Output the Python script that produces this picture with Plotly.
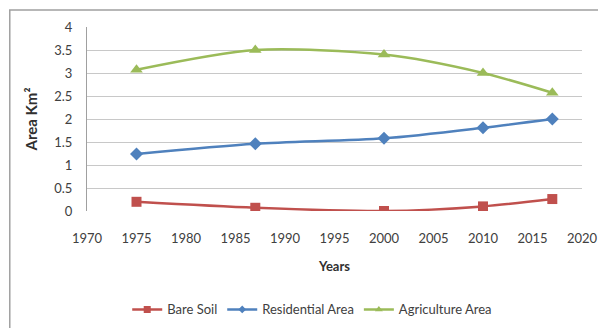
import plotly.graph_objects as go

years = [1975, 1987, 2000, 2010, 2017]
bare_soil = [0.20, 0.07, 0.00, 0.10, 0.26]
residential = [1.24, 1.46, 1.58, 1.81, 2.00]
agriculture = [3.07, 3.50, 3.40, 3.00, 2.57]

x_ticks = [1970, 1975, 1980, 1985, 1990, 1995, 2000, 2005, 2010, 2015, 2020]
y_ticks = [0, 0.5, 1, 1.5, 2, 2.5, 3, 3.5, 4]

FONT = "Lato, Open Sans, sans-serif"

series = [
    ("Bare Soil", bare_soil, "#C0504D", "square", 10, 7),
    ("Residential Area", residential, "#4F81BD", "diamond", 10, 6),
    ("Agriculture Area", agriculture, "#9BBB59", "triangle-up", 11, 7),
]

fig = go.Figure()
for name, vals, color, symbol, size, lsize in series:
    fig.add_trace(go.Scatter(
        x=years, y=vals, name=name, mode="lines+markers", showlegend=False,
        line=dict(color=color, width=2.5, shape="spline", smoothing=0.8),
        marker=dict(symbol=symbol, size=size, color=color),
    ))
    # legend entry with a smaller symbol
    fig.add_trace(go.Scatter(
        x=[None], y=[None], name=name, mode="lines+markers",
        line=dict(color=color, width=2.5),
        marker=dict(symbol=symbol, size=lsize, color=color),
    ))

fig.update_layout(
    width=598, height=328,
    margin=dict(l=87, r=16, t=27, b=117, autoexpand=False),
    paper_bgcolor="white", plot_bgcolor="white",
    font=dict(family=FONT, size=13, color="#404040"),
    showlegend=True,
    legend=dict(orientation="h", x=0.455, xanchor="center", y=-0.535, yanchor="middle",
                font=dict(size=13, color="#404040"), itemwidth=30, tracegroupgap=0),
    xaxis=dict(range=[1970, 2020], tickvals=x_ticks, showgrid=False, zeroline=False,
               showline=False, ticks="", tickfont=dict(size=13), ticklabelstandoff=18,
               automargin=False,
               title=dict(text="<b>Years</b>", font=dict(size=13, color="#303030"), standoff=16)),
    yaxis=dict(range=[0, 4], tickvals=y_ticks, ticktext=[("%g" % v) for v in y_ticks],
               showgrid=True, gridcolor="#C8C8C8", gridwidth=1, zeroline=False,
               showline=True, linecolor="#A0A0A0", linewidth=1, ticks="",
               tickfont=dict(size=13), ticklabelstandoff=11, automargin=False,
               title=dict(text="<b>Area Km²</b>", font=dict(size=15, color="#303030"), standoff=12)),
    shapes=[dict(type="rect", xref="paper", yref="paper",
                 x0=-0.156, x1=1.2, y0=-0.75, y1=1.092,
                 line=dict(color="#A0A0A0", width=1.5), layer="below")],
)

fig.write_html("out.html")
